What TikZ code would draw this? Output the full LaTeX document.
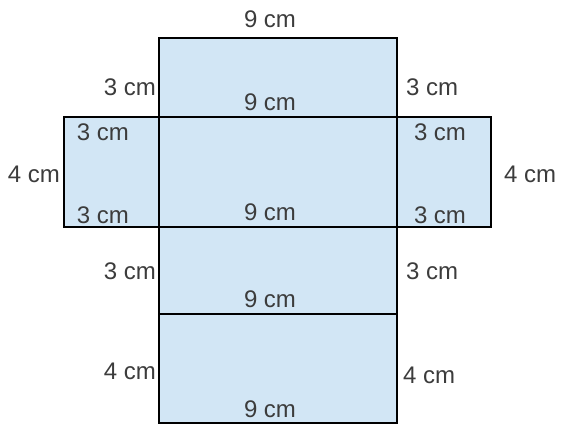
\documentclass[tikz,border=0pt]{standalone}
\usepackage{fontspec}
\setmainfont{Liberation Sans}
\usepackage{tikz}
\definecolor{netfill}{RGB}{210,230,245}
\definecolor{labelgray}{RGB}{60,60,60}

\begin{document}
\begin{tikzpicture}[x=1pt, y=-1pt]
		\tikzset{face/.style={draw = black, fill = netfill, line width = 1.1pt}}
		\tikzset{dim/.style={inner sep = 0pt, text = labelgray, font = \fontsize{24}{28}\selectfont}}
		\useasboundingbox (0, 0) rectangle (572, 434);
					%faces
					\path[face] (159, 38) rectangle (397, 117);
					\path[face] (64, 117) rectangle (159, 227);
					\path[face] (159, 117) rectangle (397, 227);
					\path[face] (397, 117) rectangle (491, 227);
					\path[face] (159, 227) rectangle (397, 314);
					\path[face] (159, 314) rectangle (397, 423);
					%labels
					\node[dim] (topw) at (270, 19) {9 cm};
					\node[dim, anchor = east] (topl) at (156, 87) {3 cm};
					\node[dim, anchor = west] (topr) at (406, 87) {3 cm};
					\node[dim] (topin) at (270, 102) {9 cm};
					\node[dim] (flaplt) at (103, 132) {3 cm};
					\node[dim] (flaprt) at (440, 132) {3 cm};
					\node[dim, anchor = east] (flapl) at (60, 174) {4 cm};
					\node[dim, anchor = west] (flapr) at (504, 174) {4 cm};
					\node[dim] (flaplb) at (103, 215) {3 cm};
					\node[dim] (midw) at (270, 212) {9 cm};
					\node[dim] (flaprb) at (440, 215) {3 cm};
					\node[dim, anchor = east] (lowl) at (156, 271) {3 cm};
					\node[dim, anchor = west] (lowr) at (406, 271) {3 cm};
					\node[dim] (loww) at (270, 299) {9 cm};
					\node[dim, anchor = east] (botl) at (156, 371) {4 cm};
					\node[dim, anchor = west] (botr) at (403, 375) {4 cm};
					\node[dim] (botw) at (270, 409) {9 cm};
					
					\end{tikzpicture}
\end{document}
